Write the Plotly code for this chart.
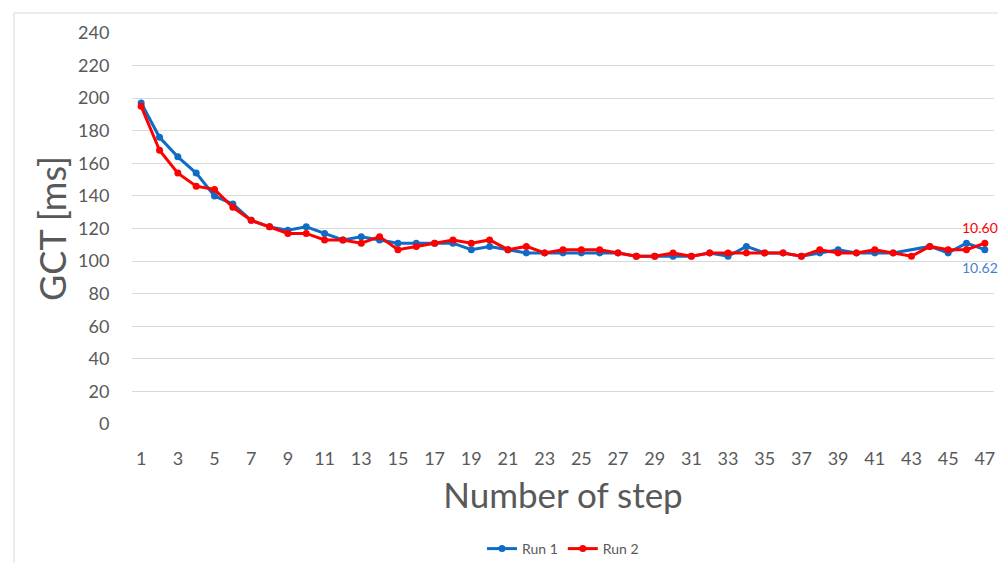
import plotly.graph_objects as go

steps = list(range(1, 48))
run1 = [197, 176, 164, 154, 140, 135, 125, 121, 119, 121,
        117, 113, 115, 113, 111, 111, 111, 111, 107, 109,
        107, 105, 105, 105, 105, 105, 105, 103, 103, 103,
        103, 105, 103, 109, 105, 105, 103, 105, 107, 105,
        105, 105, None, 109, 105, 111, 107]
run2 = [195, 168, 154, 146, 144, 133, 125, 121, 117, 117,
        113, 113, 111, 115, 107, 109, 111, 113, 111, 113,
        107, 109, 105, 107, 107, 107, 105, 103, 103, 105,
        103, 105, 105, 105, 105, 105, 103, 107, 105, 105,
        107, 105, 103, 109, 107, 107, 111]
run1_label = "10.62"
run2_label = "10.60"
y_ticks = list(range(0, 241, 20))
x_ticks = list(range(1, 48, 2))

BLUE = "#0F6CC6"
RED = "#FF0000"
GRAY = "#595959"
FONT = "Lato"

# page has an 8px body margin: figure origin sits at (8, 8)
W, H = 998, 555
L, T, R, B = 124, 25, 12, 139
PW, PH = W - L - R, H - T - B

fig = go.Figure()
fig.add_trace(go.Scatter(
    x=steps, y=run1, name="Run 1", mode="lines+markers",
    connectgaps=True,
    line=dict(color=BLUE, width=3), marker=dict(color=BLUE, size=7),
))
fig.add_trace(go.Scatter(
    x=steps, y=run2, name="Run 2", mode="lines+markers",
    line=dict(color=RED, width=3), marker=dict(color=RED, size=7),
))

# data labels on the last point of each run
fig.add_annotation(x=steps[-1], y=run2[-1], text=run2_label, showarrow=False,
                   xshift=-5, yshift=16, font=dict(color=RED, size=14, family=FONT))
fig.add_annotation(x=steps[-1], y=run1[-1], text=run1_label, showarrow=False,
                   xshift=-5, yshift=-18, font=dict(color="#4A7FD0", size=14, family=FONT))

fig.update_layout(
    width=W, height=H,
    margin=dict(l=L, r=R, t=T, b=B, autoexpand=False),
    paper_bgcolor="white", plot_bgcolor="white",
    font=dict(family=FONT, color=GRAY),
    showlegend=True,
    legend=dict(orientation="h", x=0.5, xanchor="center",
                yref="container", y=1 - (549 - 8) / H, yanchor="middle",
                font=dict(size=14, color=GRAY, family=FONT)),
    xaxis=dict(
        range=[0.5, 47.5], tickmode="array", tickvals=x_ticks,
        ticktext=[str(t) for t in x_ticks], showgrid=False, zeroline=False,
        showline=False, ticks="outside", ticklen=18, tickcolor="rgba(0,0,0,0)",
        tickfont=dict(size=18, color=GRAY, family=FONT),
        title=dict(text="Number of step", font=dict(size=35, color=GRAY, family=FONT), standoff=15),
    ),
    yaxis=dict(
        range=[0, 240], tickmode="array", tickvals=y_ticks,
        showgrid=True, gridcolor="#D9D9D9", gridwidth=1, zeroline=False,
        showline=False, ticks="outside", ticklen=18, tickcolor="rgba(0,0,0,0)",
        tickfont=dict(size=18, color=GRAY, family=FONT),
        title=dict(text="GCT [ms]", font=dict(size=36, color=GRAY, family=FONT), standoff=0),
    ),
)

# outer chart-area border
fig.add_shape(type="rect", xref="paper", yref="paper",
              x0=(6 - L) / PW, x1=(W + 10 - L) / PW,
              y0=-(H + 10 - (T + PH)) / PH, y1=1 + (T - 5) / PH,
              line=dict(color="#D9D9D9", width=1), fillcolor="rgba(0,0,0,0)", layer="below")

fig.write_html("out.html")
